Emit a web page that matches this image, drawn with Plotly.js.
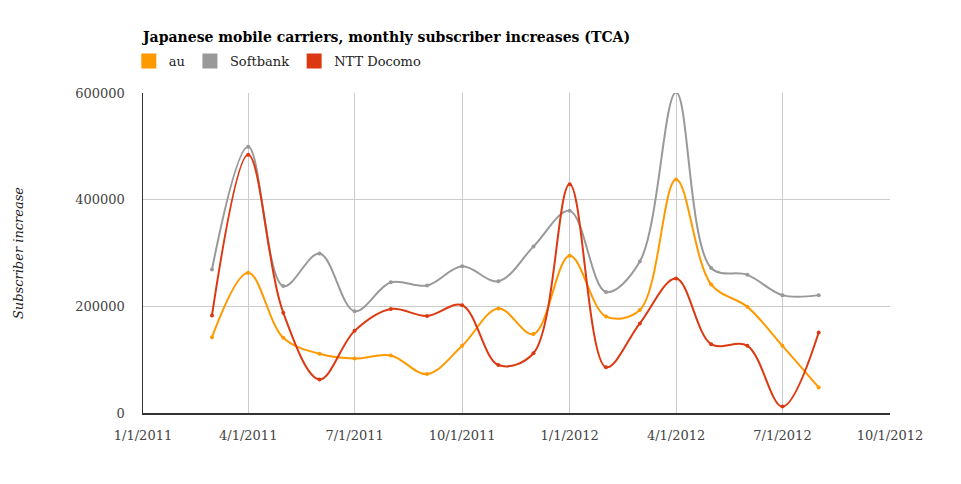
<!DOCTYPE html>
<html>
<head>
<meta charset="utf-8">
<script src="https://cdn.plot.ly/plotly-3.0.1.min.js"></script>
<style>html,body{margin:0;padding:0;background:#fff;}#chart{width:961px;height:484px;}</style>
</head>
<body>
<div id="chart"></div>
<script>
const months = ["2011-03-01","2011-04-01","2011-05-01","2011-06-01","2011-07-01","2011-08-01","2011-09-01","2011-10-01","2011-11-01","2011-12-01","2012-01-01","2012-02-01","2012-03-01","2012-04-01","2012-05-01","2012-06-01","2012-07-01","2012-08-01"];
const au = [142000,263000,141000,111000,102000,108000,73000,126000,196000,148000,295000,181000,193000,438000,241000,199000,126000,48000];
const softbank = [269000,499000,238000,299000,191000,245000,239000,275000,247000,312000,379000,227000,284000,601000,272000,259000,221000,221000];
const docomo = [183000,484000,188000,63000,154000,195000,182000,202000,90000,112000,429000,86000,168000,252000,129000,126000,12000,151000];
const seriesNames = ["au","Softbank","NTT Docomo"];
const seriesColors = ["#ff9900","#999999","#dc3912"];
const seriesData = [au, softbank, docomo];
const xTicks = ["2011-01-01","2011-04-01","2011-07-01","2011-10-01","2012-01-01","2012-04-01","2012-07-01","2012-10-01"];
const xTickText = ["1/1/2011","4/1/2011","7/1/2011","10/1/2011","1/1/2012","4/1/2012","7/1/2012","10/1/2012"];
const yTicks = [0,200000,400000,600000];
const yTickText = ["0","200000","400000","600000"];

const serif = "'DejaVu Serif', 'Liberation Serif', serif";
const traces = [];
seriesData.forEach((d,i)=>{
  traces.push({x:months,y:d,type:'scatter',mode:'lines+markers',name:seriesNames[i],
    line:{color:seriesColors[i],width:2,shape:'spline',smoothing:1},cliponaxis:false,
    marker:{color:seriesColors[i],size:4},showlegend:false,hoverinfo:'x+y'});
});
seriesData.forEach((d,i)=>{
  traces.push({x:[null],y:[null],type:'scatter',mode:'markers',name:seriesNames[i],
    marker:{color:seriesColors[i],size:15,symbol:'square'},showlegend:true});
});

const layout = {
  width:961,height:484,
  margin:{l:143,r:71,t:93,b:71},
  paper_bgcolor:'#fff',plot_bgcolor:'#fff',
  font:{family:serif,color:'#444',size:12},
  title:{text:'<b>Japanese mobile carriers, monthly subscriber increases (TCA)</b>',
    x:143/961,xref:'container',xanchor:'left',y:1-37/484,yref:'container',yanchor:'middle',
    font:{family:serif,size:14,color:'#000'}},
  showlegend:true,
  legend:{orientation:'h',x:-0.019,xanchor:'left',y:1+(93-61)/320,yanchor:'middle',
    font:{family:serif,size:13,color:'#222'},itemwidth:30,tracegroupgap:0,bgcolor:'rgba(0,0,0,0)'},
  xaxis:{type:'date',range:['2011-01-01','2012-10-01'],tickmode:'array',tickvals:xTicks,ticktext:xTickText,
    showgrid:true,gridcolor:'#cccccc',gridwidth:1,showline:true,linecolor:'#333',linewidth:1.5,
    ticks:'',ticklabelstandoff:10,zeroline:false,tickfont:{family:serif,size:13,color:'#444'},fixedrange:true},
  yaxis:{range:[0,600000],tickmode:'array',tickvals:yTicks,ticktext:yTickText,
    showgrid:true,gridcolor:'#cccccc',gridwidth:1,showline:true,linecolor:'#333',linewidth:1.5,
    ticks:'',ticklabelstandoff:14,zeroline:false,tickfont:{family:serif,size:13,color:'#444'},
    title:{text:'<i>Subscriber increase</i>',standoff:48,font:{family:serif,size:13,color:'#222'}},fixedrange:true}
};
Plotly.newPlot('chart',traces,layout,{displayModeBar:false,staticPlot:true});
</script>
</body>
</html>
